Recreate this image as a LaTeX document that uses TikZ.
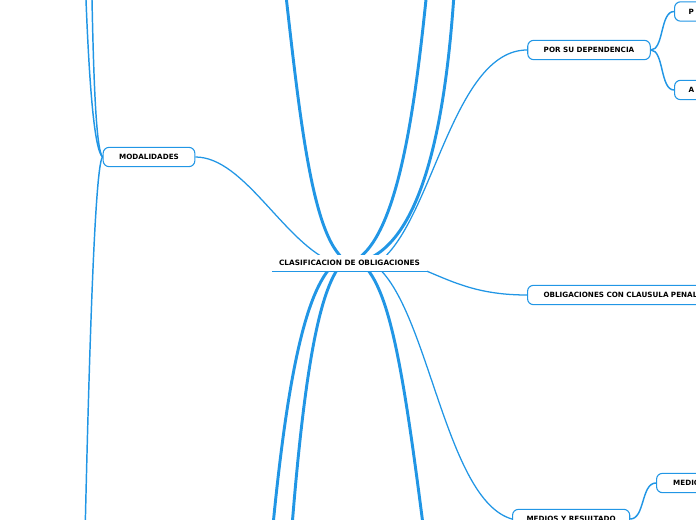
\documentclass[tikz,border=0pt]{standalone}
\usepackage{fontspec}
\newfontfamily\mapfont{DejaVu Sans}
\usetikzlibrary{backgrounds}
\definecolor{mapblue}{RGB}{33,150,229}

\begin{document}
\begin{tikzpicture}[x=0.75pt, y=-0.75pt,
    topic/.style={rectangle, rounded corners=4.5pt, draw=mapblue, line width=0.8pt,
      fill=white, minimum height=14.5pt, inner xsep=12pt, inner ysep=0pt,
      font=\mapfont\bfseries\fontsize{5.4pt}{6.5pt}\selectfont},
    cut/.style={topic, anchor=west, text width=60pt, align=left},
    trunk/.style={draw=mapblue, line width=2.2pt},
    link/.style={draw=mapblue, line width=0.95pt},
    twig/.style={draw=mapblue, line width=1.1pt}
]
\useasboundingbox (0,0) rectangle (696,520);

% root
\node[fill=white, minimum width=116pt, minimum height=12pt, inner sep=0pt,
  font=\mapfont\bfseries\fontsize{5.5pt}{6.5pt}\selectfont] (root) at (349.5,263) {CLASIFICACION DE OBLIGACIONES};
\draw[mapblue, line width=0.8pt] (root.south west) -- (root.south east);

% topics
\node[topic] (mod) at (149,157) {MODALIDADES};
\node[topic] (dep) at (589,50) {POR SU DEPENDENCIA};
\node[cut, inner xsep=10.5pt] (pri) at (674,11.5) {P};
\node[cut, inner xsep=10.5pt] (acc) at (674,90) {A};
\node[cut, text width=130pt] (pen) at (527,295) {OBLIGACIONES CON CLAUSULA PENAL};
\node[topic, anchor=west, inner xsep=10.5pt] (med) at (512,519) {MEDIOS Y RESULTADO};
\node[cut, inner xsep=12.5pt] (mdo) at (656,483) {MEDIO};

% far ends
\coordinate (up1) at (282,-40);
\coordinate (up2) at (430,-40);
\coordinate (up3) at (456,-40);
\coordinate (dn1) at (268,580);
\coordinate (dn2) at (288,580);
\coordinate (dn3) at (430,580);
\coordinate (mup1) at (84,-60);
\coordinate (mup2) at (91,-60);
\coordinate (mdn) at (84,580);

\begin{scope}[on background layer]
% main branches
\draw[trunk] (root.center) .. controls (312,245) and (300,120) .. (up1);
\draw[trunk] (root.center) .. controls (402,245) and (418,80) .. (up2);
\draw[trunk] ([xshift=4pt]root.center) .. controls (432,250) and (450,80) .. (up3);
\draw[trunk] ([xshift=-11pt]root.center) .. controls (305,290) and (285,380) .. (dn1);
\draw[trunk] ([xshift=-5.5pt]root.center) .. controls (318,290) and (302,380) .. (dn2);
\draw[trunk] ([xshift=9pt]root.center) .. controls (392,290) and (405,380) .. (dn3);
% thin branches
\draw[link] ([xshift=21pt]root.center) .. controls (432,225) and (452,50) .. (dep.west);
\draw[link] (mod.east) .. controls (245,157) and (285,245) .. ([xshift=-11pt]root.center);
\draw[link] ([xshift=17pt]root.center) .. controls (428,300) and (444,500) .. (med.west);
\draw[link] (root.south east) .. controls (455,283) and (480,295) .. (pen.west);
% sub branches
\draw[twig] (mod.west) .. controls (94,150) and (88,80) .. (mup1);
\draw[twig] (mod.west) .. controls (96,150) and (93,80) .. (mup2);
\draw[twig] (mod.west) .. controls (94,165) and (88,400) .. (mdn);
\draw[twig] (dep.east) .. controls (664,50) and (660,11.5) .. (pri.west);
\draw[twig] (dep.east) .. controls (664,50) and (660,90) .. (acc.west);
\draw[twig] (med.east) .. controls (645,519) and (641,483) .. (mdo.west);
\end{scope}
\end{tikzpicture}
\end{document}
